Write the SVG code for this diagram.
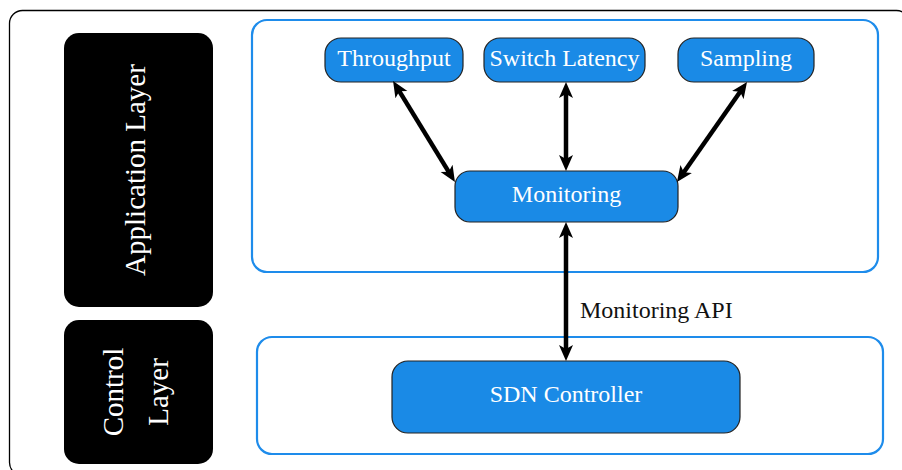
<svg xmlns="http://www.w3.org/2000/svg" width="902" height="470" viewBox="0 0 902 470">
<style>
.frame{fill:#fff;stroke:#000;stroke-width:1.3}
.layer{fill:#000}
.ltxt{fill:#fff;font-family:"Liberation Serif","Times New Roman",serif;font-size:29px;text-anchor:middle}
.cont{fill:#fff;stroke:#1e8ceb;stroke-width:2.2}
.node{fill:#1a8ae6;stroke:#222;stroke-width:1.2}
.ntxt{fill:#fff;font-family:"Liberation Serif","Times New Roman",serif;font-size:24px;text-anchor:middle}
.lbl{fill:#111;font-family:"Liberation Serif","Times New Roman",serif;font-size:24px}
.conn{stroke:#000;stroke-width:4.5;fill:none;marker-start:url(#ah);marker-end:url(#ah)}
</style>
<defs>
<marker id="ah" viewBox="0 0 16 16" refX="5" refY="8" markerWidth="16" markerHeight="16" markerUnits="userSpaceOnUse" orient="auto-start-reverse">
<path d="M0,1 L16,8 L0,15 L4,8 z" fill="#000"/>
</marker>
</defs>
<rect class="frame" x="9.5" y="10.5" width="900" height="465" rx="13"/>
<g id="application-layer">
<rect class="layer" x="64" y="33" width="149" height="274" rx="15"/>
<text class="ltxt" transform="translate(145,170) rotate(-90)">Application Layer</text>
</g>
<g id="control-layer">
<rect class="layer" x="64" y="320" width="149" height="144" rx="15"/>
<text class="ltxt" transform="translate(123,392) rotate(-90)">Control</text>
<text class="ltxt" transform="translate(168,392) rotate(-90)">Layer</text>
</g>
<g id="app-container">
<rect class="cont" x="252" y="20" width="626" height="252" rx="15"/>
</g>
<g id="control-container">
<rect class="cont" x="257" y="337" width="626" height="117" rx="15"/>
</g>
<g id="throughput">
<rect class="node" x="325" y="38" width="138" height="44" rx="16"/>
<text class="ntxt" x="394" y="66">Throughput</text>
</g>
<g id="switch-latency">
<rect class="node" x="484" y="38" width="161" height="44" rx="16"/>
<text class="ntxt" x="564.5" y="66">Switch Latency</text>
</g>
<g id="sampling">
<rect class="node" x="678" y="38" width="136" height="44" rx="16"/>
<text class="ntxt" x="746" y="66">Sampling</text>
</g>
<g id="monitoring">
<rect class="node" x="455" y="171" width="223" height="51" rx="15"/>
<text class="ntxt" x="566.5" y="202">Monitoring</text>
</g>
<g id="sdn-controller">
<rect class="node" x="392" y="361" width="348" height="72" rx="16"/>
<text class="ntxt" x="566" y="402">SDN Controller</text>
</g>
<g id="connectors">
<line class="conn" x1="398.8" y1="90.4" x2="449.2" y2="172.6"/>
<line class="conn" x1="566" y1="93" x2="566" y2="160"/>
<line class="conn" x1="740.7" y1="91.0" x2="683.3" y2="173.0"/>
<line class="conn" x1="566" y1="233" x2="566" y2="350"/>
<text class="lbl" x="580" y="318">Monitoring API</text>
</g>
</svg>
